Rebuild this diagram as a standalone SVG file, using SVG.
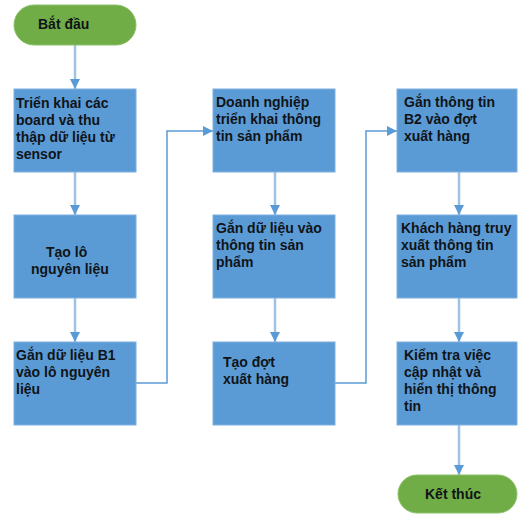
<svg xmlns="http://www.w3.org/2000/svg" width="518" height="515" viewBox="0 0 518 515">
<style>
.box{fill:#5b9bd5;stroke:#7fb0e0;stroke-width:1}
.term{fill:#70ad47;stroke:#8cc06a;stroke-width:1}
text{font-family:"Liberation Sans",Arial,sans-serif;font-weight:bold;font-size:14px;fill:#101418}
.v{stroke:#9dc3e6;stroke-width:2.5;fill:none}
.e{stroke:#5b9bd5;stroke-width:1.5;fill:none}
</style>
<defs>
<marker id="ah" viewBox="0 0 10 10" refX="10" refY="5" markerWidth="10" markerHeight="10" markerUnits="userSpaceOnUse" orient="auto">
<path d="M0,0 L10,5 L0,10 z" fill="#5b9bd5"/>
</marker>
</defs>
<g id="connectors">
<line class="v" x1="75" y1="45" x2="75" y2="89" marker-end="url(#ah)"/>
<line class="v" x1="75" y1="172" x2="75" y2="215" marker-end="url(#ah)"/>
<line class="v" x1="75" y1="298" x2="75" y2="342" marker-end="url(#ah)"/>
<polyline class="e" points="136,383 167,383 167,131 213,131" marker-end="url(#ah)"/>
<line class="v" x1="275" y1="172" x2="275" y2="215" marker-end="url(#ah)"/>
<line class="v" x1="275" y1="298" x2="275" y2="342" marker-end="url(#ah)"/>
<polyline class="e" points="335,383 366,383 366,131 397,131" marker-end="url(#ah)"/>
<line class="v" x1="459" y1="172" x2="459" y2="215" marker-end="url(#ah)"/>
<line class="v" x1="459" y1="298" x2="459" y2="342" marker-end="url(#ah)"/>
<line class="v" x1="459" y1="425" x2="459" y2="475" marker-end="url(#ah)"/>
</g>
<g id="start">
<rect class="term" x="14" y="5" width="122" height="40" rx="20"/>
<text x="38" y="29">Bắt đầu</text>
</g>
<g id="n1">
<rect class="box" x="14" y="89" width="122" height="83"/>
<text x="16" y="108">Triển khai các</text>
<text x="16" y="125">board và thu</text>
<text x="16" y="142">thập dữ liệu từ</text>
<text x="16" y="159">sensor</text>
</g>
<g id="n2">
<rect class="box" x="14" y="215" width="122" height="83"/>
<text x="46" y="257">Tạo lô</text>
<text x="31" y="274">nguyên liệu</text>
</g>
<g id="n3">
<rect class="box" x="14" y="342" width="122" height="83"/>
<text x="16" y="360">Gắn dữ liệu B1</text>
<text x="16" y="377">vào lô nguyên</text>
<text x="16" y="394">liệu</text>
</g>
<g id="n4">
<rect class="box" x="213" y="89" width="122" height="83"/>
<text x="216" y="107">Doanh nghiệp</text>
<text x="216" y="124">triển khai thông</text>
<text x="216" y="141">tin sản phẩm</text>
</g>
<g id="n5">
<rect class="box" x="213" y="215" width="122" height="83"/>
<text x="216" y="233">Gắn dữ liệu vào</text>
<text x="216" y="250">thông tin sản</text>
<text x="216" y="267">phẩm</text>
</g>
<g id="n6">
<rect class="box" x="213" y="342" width="122" height="83"/>
<text x="223" y="367">Tạo đợt</text>
<text x="223" y="384">xuất hàng</text>
</g>
<g id="n7">
<rect class="box" x="397" y="89" width="120" height="83"/>
<text x="404" y="107">Gắn thông tin</text>
<text x="404" y="124">B2 vào đợt</text>
<text x="404" y="141">xuất hàng</text>
</g>
<g id="n8">
<rect class="box" x="397" y="215" width="120" height="83"/>
<text x="401" y="233">Khách hàng truy</text>
<text x="401" y="250">xuất thông tin</text>
<text x="401" y="267">sản phẩm</text>
</g>
<g id="n9">
<rect class="box" x="397" y="342" width="120" height="83"/>
<text x="404" y="360">Kiểm tra việc</text>
<text x="404" y="377">cập nhật và</text>
<text x="404" y="394">hiển thị thông</text>
<text x="404" y="411">tin</text>
</g>
<g id="end">
<rect class="term" x="398" y="475" width="119" height="38" rx="19"/>
<text x="425" y="499">Kết thúc</text>
</g>
</svg>
